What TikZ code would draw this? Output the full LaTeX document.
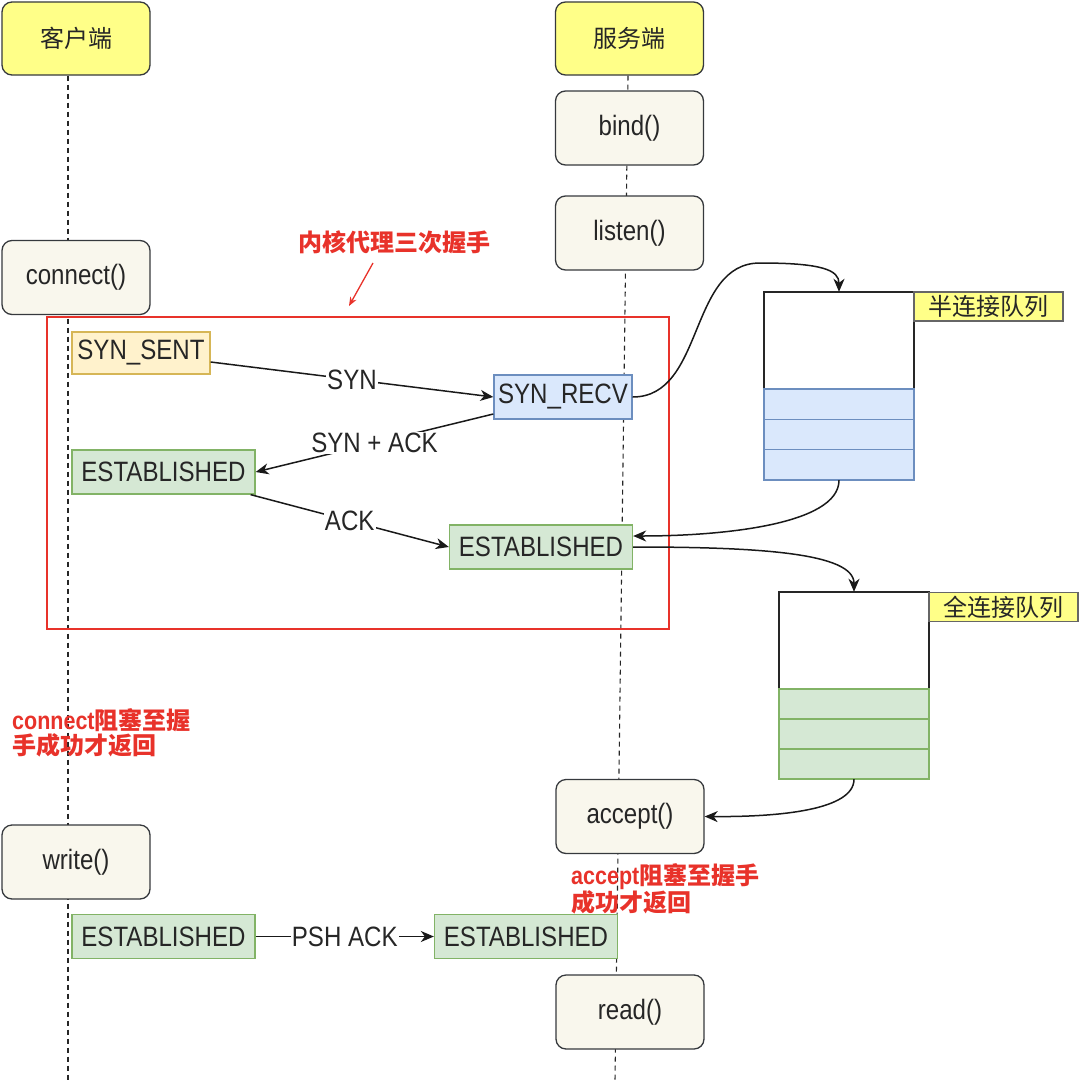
\documentclass[tikz,border=0pt]{standalone}
\usepackage{fontspec}
\setmainfont{Liberation Sans}[FakeStretch=0.86]
\newfontfamily\cjk{Noto Sans CJK SC}
\usetikzlibrary{arrows.meta,backgrounds}
\definecolor{edge}{HTML}{36393D}
\definecolor{headyellow}{HTML}{FFFF88}
\definecolor{funcfill}{HTML}{F9F7ED}
\definecolor{sentfill}{HTML}{FFF2CC}
\definecolor{sentdraw}{HTML}{D6B656}
\definecolor{recvfill}{HTML}{DAE8FC}
\definecolor{recvdraw}{HTML}{6C8EBF}
\definecolor{estfill}{HTML}{D5E8D4}
\definecolor{estdraw}{HTML}{82B366}
\definecolor{redc}{HTML}{E8322A}
\definecolor{lblgray}{HTML}{666666}
\begin{document}
\begin{tikzpicture}[x=1pt,y=-1pt,
  every node/.style={font=\fontsize{28}{31}\selectfont, inner sep=0pt, text=black!85},
  headbox/.style={rounded corners=10pt, draw=edge, fill=headyellow, line width=1.3pt,
    minimum width=148pt, minimum height=73pt, font=\cjk\fontsize{24}{28}\selectfont},
  funcbox/.style={rounded corners=10pt, draw=edge, fill=funcfill, line width=1.3pt,
    minimum width=148pt, minimum height=74pt},
  statebox/.style={line width=1.3pt, minimum height=44pt},
  sentbox/.style={statebox, draw=sentdraw, fill=sentfill, minimum width=138pt, minimum height=42pt},
  recvbox/.style={statebox, draw=recvdraw, fill=recvfill, minimum width=138pt},
  estbox/.style={statebox, draw=estdraw, fill=estfill, minimum width=183pt},
  life/.style={dashed, dash pattern=on 5pt off 4pt, line width=1.1pt, draw=black!85},
  msg/.style={line width=1.5pt, draw=black!90, -{Stealth[length=13pt,width=11pt,inset=4pt]}},
  lbl/.style={fill=white, inner sep=1pt},
  qlabel/.style={draw=lblgray, fill=headyellow, line width=1.3pt, minimum width=149pt,
    minimum height=29pt, font=\cjk\fontsize{24}{28}\selectfont},
  redtxt/.style={text=redc, align=left, font=\fontsize{25}{25}\selectfont\bfseries},
]
\useasboundingbox (0,0) rectangle (1080,1081);

% heads
\node[headbox] (client) at (76,38.5) {客户端};
\node[headbox] (server) at (629.5,38.5) {服务端};
\coordinate (clientend) at (68,1081);
\coordinate (serverend) at (615,1081);

% function boxes
\node[funcbox] (bind) at (629.5,128) {bind()};
\node[funcbox] (listen) at (629.5,233) {listen()};
\node[funcbox] (connect) at (76,277.5) {connect()};
\node[funcbox] (accept) at (630,816.5) {accept()};
\node[funcbox] (write) at (76,862) {write()};
\node[funcbox] (read) at (630,1012) {read()};

% red frame
\node[draw=redc, line width=1.7pt, minimum width=622pt, minimum height=312pt] (frame) at (358,473) {};

% states
\node[sentbox] (sent) at (141,353) {SYN\_SENT};
\node[recvbox] (recv) at (563,397) {SYN\_RECV};
\node[estbox] (estc1) at (163.5,472) {ESTABLISHED};
\node[estbox] (ests1) at (541,547) {ESTABLISHED};
\node[estbox] (estc2) at (163.5,936.5) {ESTABLISHED};
\node[estbox] (ests2) at (526,936.5) {ESTABLISHED};

% lifelines (behind)
\begin{scope}[on background layer]
\draw[life] ([xshift=-8pt]client.south) -- (clientend);
\draw[life] ([xshift=-1.5pt]server.south) -- (serverend);
\end{scope}

% red annotations
\node[redtxt, font=\cjk\fontsize{24}{28}\selectfont\bfseries] (ktitle) at (394,242) {内核代理三次握手};
\coordinate (ra1) at (373,263);
\coordinate (ra2) at (349,306);
\draw[redc, line width=1.3pt, -{Stealth[length=9pt,width=7pt,inset=3pt]}] (ra1) -- (ra2);
\node[redtxt, anchor=north west] (cnote) at (12,708) {connect{\cjk\fontsize{24}{25}\selectfont 阻塞至握}\\{\cjk\fontsize{24}{25}\selectfont 手成功才返回}};
\node[redtxt, anchor=north west] (anote) at (571,863) {accept{\cjk\fontsize{24}{25}\selectfont 阻塞至握手}\\{\cjk\fontsize{24}{25}\selectfont 成功才返回}};

% half-connection queue
\draw[line width=1.3pt, draw=black!85, fill=white] (764,292) rectangle (914,389);
\draw[line width=1.3pt, draw=recvdraw, fill=recvfill] (764,389) rectangle (914,419.3);
\draw[line width=1.3pt, draw=recvdraw, fill=recvfill] (764,419.3) rectangle (914,449.7);
\draw[line width=1.3pt, draw=recvdraw, fill=recvfill] (764,449.7) rectangle (914,480);
\node[minimum width=150pt, minimum height=188pt] (hq) at (839,386) {};
\node[qlabel] (hql) at (988.5,306.5) {半连接队列};

% full-connection queue
\draw[line width=1.3pt, draw=black!85, fill=white] (779,592) rectangle (929,689);
\draw[line width=1.3pt, draw=estdraw, fill=estfill] (779,689) rectangle (929,719);
\draw[line width=1.3pt, draw=estdraw, fill=estfill] (779,719) rectangle (929,749);
\draw[line width=1.3pt, draw=estdraw, fill=estfill] (779,749) rectangle (929,779);
\node[minimum width=150pt, minimum height=187pt] (fq) at (854,685.5) {};
\node[qlabel] (fql) at (1003.5,607) {全连接队列};

% handshake messages
\draw[msg] ([yshift=-9pt]sent.east) -- node[lbl] {SYN} (recv.west);
\draw[msg] ([yshift=-17pt]recv.west) -- node[lbl] {SYN + ACK} (estc1.east);
\draw[msg] ([xshift=-5pt]estc1.south east) -- node[lbl] {ACK} (ests1.west);
\draw[msg] (estc2.east) -- node[lbl] {PSH ACK} (ests2.west);

% queue flows
\draw[msg] (recv.east) .. controls (705,397) and (688,263) .. (760,263)
  .. controls (822,263) and (839,270) .. (hq.north);
\draw[msg] (hq.south) .. controls (839,525) and (720,536) .. ([yshift=11pt]ests1.east);
\draw[msg] (ests1.east) .. controls (760,547) and (854,553) .. (fq.north);
\draw[msg] (fq.south) .. controls (854,810) and (780,817) .. (accept.east);
\end{tikzpicture}
\end{document}
